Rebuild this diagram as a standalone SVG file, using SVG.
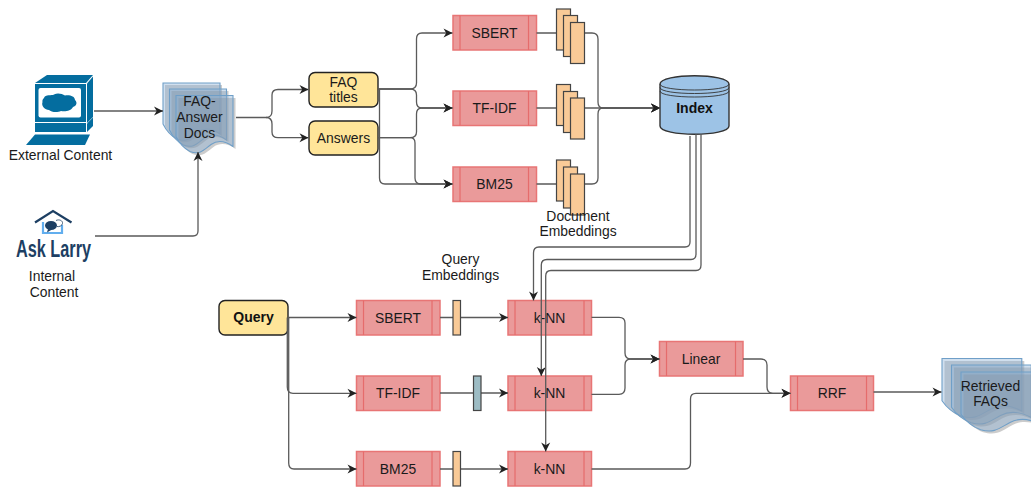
<svg xmlns="http://www.w3.org/2000/svg" xmlns:xlink="http://www.w3.org/1999/xlink" width="1031" height="490" viewBox="0 0 1031 490">
<style>
text{font-family:"Liberation Sans",Arial,sans-serif;font-size:13.9px;fill:#1a1a1a;text-anchor:middle}
.b{font-weight:bold;font-size:14px;fill:#111}
.c{fill:none;stroke:#5a5a5a;stroke-width:1.3;stroke-linejoin:round}
.a{marker-end:url(#arr)}
.pink{fill:#ea9a9a;stroke:#e87575;stroke-width:1.5}
.inner{fill:none;stroke:#e56c6c;stroke-width:1.2}
.yel{fill:#ffe599;stroke:#222;stroke-width:1.4}
.emb{fill:#f9ca97;stroke:#444;stroke-width:1.2}
.teal{fill:#9dbcc4;stroke:#444;stroke-width:1.2}
.ic{fill:#046d9f}
.docl{fill:#8fb2d6;fill-opacity:.42;stroke:#6f9fc8;stroke-width:1.1}
.docs{fill:#808080;fill-opacity:.4;stroke:none}
</style>
<defs>
<marker id="arr" markerUnits="userSpaceOnUse" markerWidth="11" markerHeight="11" refX="9.500" refY="5.500" orient="auto">
<path d="M0.500,1 L9.500,5.500 L0.500,10 L3.200,5.500 Z" fill="#222"/>
</marker>
<path id="doc" vector-effect="non-scaling-stroke" d="M0,0 H57 V51 C50,46 42,44 35,49 C28,54 24,60 14,56 C8,53 3,47 0,41 Z"/>
</defs>

<g id="node-external">
<path class="ic" d="M35,83 L47,75 H93 L86,83 Z"/>
<path class="ic" d="M87,83.500 L93,76.500 V117 L87,123 Z"/>
<rect class="ic" x="35" y="84" width="51" height="38"/>
<rect x="38.500" y="88" width="42.500" height="29.500" rx="2" fill="#fff"/>
<path class="ic" d="M44,98 C45,94 52,96 54,94.500 C58,92.500 62,94 65,95.500 C69,94.500 75,96 75,100 C78,103 76,106 73,107 C71,111 65,112 61,111 C57,113 51,112 49,110 C45,110 41,106 42.500,102 C42,100.500 43,99 44,98 Z"/>
<rect class="ic" x="35" y="123" width="51" height="9"/>
<path class="ic" d="M87,123.500 L93,117.500 V126 L87,132 Z"/>
<path class="ic" d="M26,145 L35,134.500 H90 L85,145 Z"/>
<text x="60.500" y="160">External Content</text>
</g>

<g id="node-asklarry">
<path d="M35,222.500 L53,211 L71.500,222.500" fill="none" stroke="#1d3f63" stroke-width="2.200"/>
<path d="M43,222 V233 H62 V225" fill="none" stroke="#62aeee" stroke-width="2.200"/>
<ellipse cx="51" cy="225.500" rx="6" ry="4.500" fill="#1d3f63"/>
<path d="M48,229 L47,232.500 L52,229.500 Z" fill="#1d3f63"/>
<path d="M56,220.500 C59,219 63,220.500 62.500,223.500 C62,226 59,227 57,226.500" fill="none" stroke="#1d3f63" stroke-width=".8"/>
<text x="53.500" y="257" textLength="75" lengthAdjust="spacingAndGlyphs" style="font-family:'Liberation Sans Narrow','Liberation Sans',sans-serif;font-weight:bold;font-size:23px;fill:#1d3f63">Ask Larry</text>
<text x="52" y="281">Internal</text>
<text x="54" y="296.500">Content</text>
</g>

<g id="node-docs">
<use xlink:href="#doc" href="#doc" class="docs" transform="translate(165,85)"/>
<use xlink:href="#doc" href="#doc" class="docl" transform="translate(163,83)"/>
<use xlink:href="#doc" href="#doc" class="docs" transform="translate(171.500,91)"/>
<use xlink:href="#doc" href="#doc" class="docl" transform="translate(169.500,89)"/>
<use xlink:href="#doc" href="#doc" class="docs" transform="translate(178.500,98)"/>
<use xlink:href="#doc" href="#doc" class="docl" transform="translate(176,95.500)"/>
<text x="199.500" y="106">FAQ-</text>
<text x="199.500" y="122">Answer</text>
<text x="199.500" y="137.500">Docs</text>
</g>

<g id="node-faq-titles"><rect class="yel" x="309" y="72.500" width="69" height="34.500" rx="6"/><text x="343.500" y="86.500">FAQ</text><text x="343.500" y="102">titles</text></g>
<g id="node-answers"><rect class="yel" x="309" y="121" width="69" height="34" rx="6"/><text x="343.500" y="142.500">Answers</text></g>

<g id="node-sbert-d"><rect class="pink" x="453" y="15.500" width="83.500" height="34.500"/><path class="inner" d="M460,15.500 V50 M528.500,15.500 V50"/><text x="494.500" y="37.500">SBERT</text></g>
<g id="node-tfidf-d"><rect class="pink" x="453" y="91" width="83.500" height="34.500"/><path class="inner" d="M460,91 V125.500 M528.500,91 V125.500"/><text x="494.500" y="113">TF-IDF</text></g>
<g id="node-bm25-d"><rect class="pink" x="453" y="167" width="83.500" height="34.500"/><path class="inner" d="M460,167 V201.500 M528.500,167 V201.500"/><text x="494.500" y="189">BM25</text></g>

<g id="node-index">
<path d="M660,84 C660,73 729,73 729,84 V126 C729,137 660,137 660,126 Z" fill="#9dc3e6" stroke="#333" stroke-width="1.400"/>
<path d="M660,84 C660,92 729,92 729,84 M660,87.500 C660,95.500 729,95.500 729,87.500 M660,91 C660,99 729,99 729,91" fill="none" stroke="#333" stroke-width=".9"/>
<text class="b" x="694.500" y="113">Index</text>
</g>

<g id="node-query"><rect class="yel" x="219" y="300.500" width="69" height="34.500" rx="6"/><text class="b" x="253.500" y="322">Query</text></g>
<g id="node-sbert-q"><rect class="pink" x="356.500" y="300.500" width="83.500" height="34.500"/><path class="inner" d="M363.500,300.500 V335 M432,300.500 V335"/><text x="398" y="322.500">SBERT</text></g>
<g id="node-tfidf-q"><rect class="pink" x="356.500" y="376" width="83.500" height="34.500"/><path class="inner" d="M363.500,376 V410.500 M432,376 V410.500"/><text x="398" y="398">TF-IDF</text></g>
<g id="node-bm25-q"><rect class="pink" x="356.500" y="451.500" width="83.500" height="34.500"/><path class="inner" d="M363.500,451.500 V486 M432,451.500 V486"/><text x="398" y="474">BM25</text></g>

<g id="node-knn-1"><rect class="pink" x="508" y="300.500" width="83.500" height="34.500"/><path class="inner" d="M515,300.500 V335 M584,300.500 V335"/><text x="549.500" y="322.500">k-NN</text></g>
<g id="node-knn-2"><rect class="pink" x="508" y="376" width="83.500" height="34.500"/><path class="inner" d="M515,376 V410.500 M584,376 V410.500"/><text x="549.500" y="398">k-NN</text></g>
<g id="node-knn-3"><rect class="pink" x="508" y="451.500" width="83.500" height="34.500"/><path class="inner" d="M515,451.500 V486 M584,451.500 V486"/><text x="549.500" y="474">k-NN</text></g>

<g id="node-linear"><rect class="pink" x="659.500" y="341.500" width="83.500" height="34.500"/><path class="inner" d="M666.500,341.500 V376 M735.500,341.500 V376"/><text x="701" y="363.500">Linear</text></g>
<g id="node-rrf"><rect class="pink" x="790.500" y="376" width="83" height="34.500"/><path class="inner" d="M797.500,376 V410.500 M866.500,376 V410.500"/><text x="832" y="398">RRF</text></g>

<g id="node-retrieved">
<use xlink:href="#doc" href="#doc" class="docs" transform="translate(944.500,361) scale(1.400,1.030)"/>
<use xlink:href="#doc" href="#doc" class="docl" transform="translate(942,358.500) scale(1.400,1.030)"/>
<use xlink:href="#doc" href="#doc" class="docs" transform="translate(954,367.500) scale(1.400,1.030)"/>
<use xlink:href="#doc" href="#doc" class="docl" transform="translate(951.500,365) scale(1.400,1.030)"/>
<use xlink:href="#doc" href="#doc" class="docs" transform="translate(963.500,374.500) scale(1.400,1.030)"/>
<use xlink:href="#doc" href="#doc" class="docl" transform="translate(961,372) scale(1.400,1.030)"/>
<text x="990.500" y="391">Retrieved</text>
<text x="990.500" y="406">FAQs</text>
</g>

<g id="connectors">
<path class="c a" d="M94,111 H163"/>
<path class="c a" d="M95,236 H193 Q198,236 198,231 V152"/>
<path class="c" d="M236,117.500 H266 Q272,117.500 272,111"/>
<path class="c a" d="M272,111 V95 Q272,89.500 278,89.500 H308.500"/>
<path class="c a" d="M266,117.500 Q272,117.500 272,124 V132 Q272,137.700 278,137.700 H308.500"/>
<path class="c a" d="M378,89 H410 Q416.500,89 416.500,83 V39 Q416.500,33 422,33 H452.500"/>
<path class="c a" d="M378,89 H410 Q416.500,89 416.500,95 V102 Q416.500,108 422,108 H452.500"/>
<path class="c a" d="M378,137.700 H410 Q416.500,137.700 416.500,132 V114 Q416.500,108 422,108 H452.500"/>
<path class="c a" d="M379.500,89 V178 Q379.500,184 385,184 H452.500"/>
<path class="c a" d="M378,137.700 H410 Q415,137.700 415,143 V178 Q415,184 421,184 H452.500"/>
<path class="c a" d="M536.500,33 H592 Q598,33 598,39 V102 Q598,108 603,108 H660"/>
<path class="c a" d="M536.500,108 H660"/>
<path class="c a" d="M536.500,184 H592 Q598,184 598,178 V114 Q598,108 603,108 H660"/>
<path class="c a" d="M690,136 V242 Q690,247 685,247 H539 Q533.500,247 533.500,253 V300.500"/>
<path class="c a" d="M696,134 V254 Q696,259.500 691,259.500 H547 Q541.300,259.500 541.300,265 V376"/>
<path class="c a" d="M701,134 V265 Q701,270.500 696,270.500 H551 Q545.700,270.500 545.700,276 V451.500"/>
<path class="c a" d="M288,317.500 H356.500"/>
<path class="c a" d="M287.300,317.500 V387 Q287.300,393.300 293,393.300 H356.500"/>
<path class="c a" d="M288.700,317.500 V463 Q288.700,469 294,469 H356.500"/>
<path class="c a" d="M440,317.500 H508"/>
<path class="c a" d="M440,393 H508"/>
<path class="c a" d="M440,469 H508"/>
<path class="c a" d="M591.500,317.300 H619 Q625,317.300 625,323 V353 Q625,359 631,359 H659.500"/>
<path class="c a" d="M591.500,394.300 H619 Q625,394.300 625,388 V365 Q625,359 631,359 H659.500"/>
<path class="c a" d="M743,359 H761 Q767,359 767,365 V387 Q767,393.300 773,393.300 H790.500"/>
<path class="c a" d="M591.500,469 H685 Q690.500,469 690.500,463 V399 Q690.500,393.300 696,393.300 H790.500"/>
<path class="c a" d="M873.500,392 H941.500"/>
</g>

<g id="node-emb-d1"><rect class="emb" x="556.500" y="9" width="14" height="41"/><rect class="emb" x="563.500" y="15.500" width="14" height="41"/><rect class="emb" x="570.500" y="22.500" width="14" height="41"/></g>
<g id="node-emb-d2"><rect class="emb" x="556.500" y="84.500" width="14" height="41"/><rect class="emb" x="563.500" y="91.500" width="14" height="41"/><rect class="emb" x="570.500" y="98" width="14" height="41"/></g>
<g id="node-emb-d3"><rect class="emb" x="556.500" y="160" width="14" height="41"/><rect class="emb" x="563.500" y="167" width="14" height="41"/><rect class="emb" x="570.500" y="174" width="14" height="41"/></g>
<g id="node-emb-q1"><rect class="emb" x="453" y="300.500" width="7.500" height="34.500"/></g>
<g id="node-emb-q2"><rect class="teal" x="473.500" y="376" width="7.500" height="34.500"/></g>
<g id="node-emb-q3"><rect class="emb" x="453" y="451.500" width="7.500" height="34.500"/></g>

<g id="labels">
<text x="578" y="221">Document</text>
<text x="578" y="236">Embeddings</text>
<text x="460.500" y="264">Query</text>
<text x="460.500" y="279.500">Embeddings</text>
</g>
</svg>
